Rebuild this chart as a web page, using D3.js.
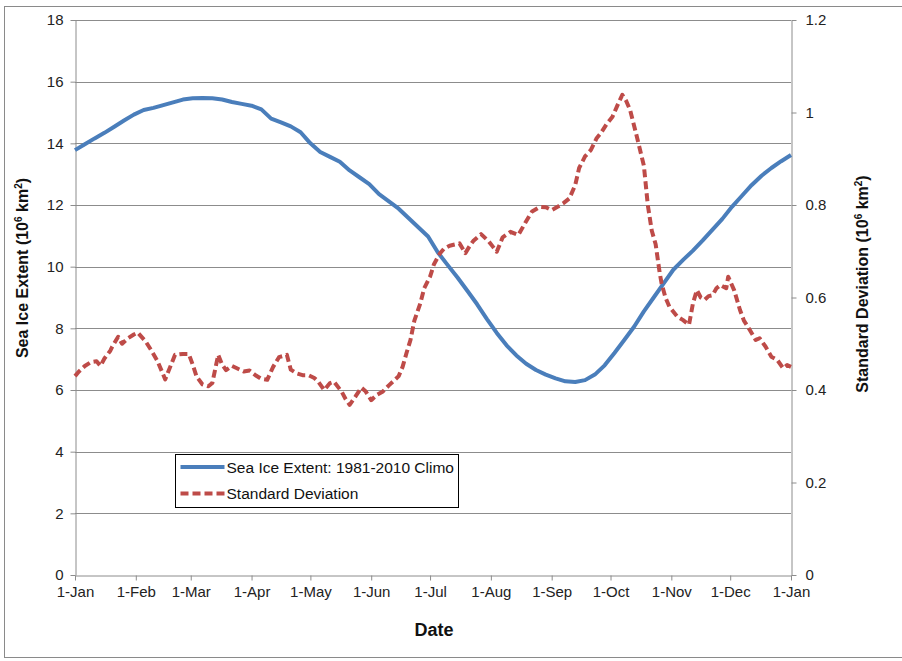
<!DOCTYPE html>
<html>
<head>
<meta charset="utf-8">
<script src="https://cdn.jsdelivr.net/npm/d3@7/dist/d3.min.js"></script>
<style>
  html, body { margin: 0; padding: 0; background: #fff; }
  svg { display: block; }
  .tick text { font-family: "Liberation Sans Narrow", "Liberation Sans", Arial, sans-serif; font-size: 15px; fill: #222; }
</style>
</head>
<body>
<svg id="chart" width="902" height="661"></svg>
<script>
// Day-of-year positions (0 = 1-Jan) and climatological sea ice extent (10^6 km^2)
const extentDays = [0,5,10,15,20,25,30,35,40,45,50,55,60,65,70,75,80,85,90,95,100,105,110,115,120,125,130,135,140,145,150,155,160,165,170,175,180,185,190,195,200,205,210,215,220,225,230,235,240,245,250,255,260,265,270,275,280,285,290,295,300,305,310,315,320,325,330,335,340,345,350,355,360,365];
const extentValues = [13.78,13.97,14.16,14.34,14.54,14.74,14.93,15.08,15.15,15.24,15.33,15.42,15.46,15.47,15.46,15.42,15.34,15.28,15.22,15.10,14.80,14.68,14.55,14.36,14.00,13.72,13.56,13.40,13.12,12.90,12.68,12.35,12.12,11.88,11.58,11.28,10.98,10.46,10.05,9.65,9.22,8.78,8.30,7.85,7.45,7.12,6.85,6.65,6.50,6.38,6.28,6.26,6.32,6.50,6.80,7.20,7.62,8.05,8.55,9.00,9.45,9.90,10.22,10.52,10.85,11.20,11.55,11.95,12.30,12.65,12.95,13.20,13.42,13.62];

// Standard deviation of extent (10^6 km^2)
const stdDays = [0,2,5,8,11,13,15,18,19,22,24,27,30,32,36,39,42,46,49,51,55,58,60,62,65,68,70,73,75,77,80,82,84,86,89,92,95,98,101,104,108,110,113,116,119,122,124,127,130,132,136,138,140,143,146,148,151,154,157,160,163,165,167,169,171,173,176,178,181,183,186,188,191,193,196,199,201,203,207,211,213,215,218,222,226,230,233,237,240,243,246,249,252,255,257,260,263,266,268,271,274,277,279,281,283,286,288,290,292,294,296,298,299,301,303,307,310,313,315,317,319,321,323,325,327,329,332,333,336,339,341,343,347,349,352,355,358,361,363,365];
const stdValues = [0.430,0.440,0.452,0.460,0.462,0.452,0.468,0.485,0.494,0.515,0.500,0.512,0.520,0.524,0.505,0.485,0.463,0.423,0.455,0.476,0.478,0.478,0.455,0.429,0.412,0.408,0.415,0.476,0.455,0.443,0.452,0.448,0.444,0.440,0.442,0.432,0.424,0.422,0.450,0.471,0.476,0.444,0.436,0.432,0.432,0.426,0.418,0.400,0.415,0.418,0.396,0.380,0.368,0.386,0.405,0.398,0.378,0.390,0.397,0.410,0.422,0.430,0.450,0.480,0.508,0.550,0.587,0.620,0.645,0.672,0.695,0.705,0.712,0.714,0.717,0.696,0.710,0.722,0.737,0.721,0.710,0.699,0.730,0.742,0.735,0.765,0.786,0.796,0.795,0.789,0.796,0.804,0.814,0.843,0.880,0.905,0.919,0.945,0.955,0.975,0.991,1.020,1.038,1.025,1.005,0.955,0.920,0.885,0.800,0.745,0.715,0.655,0.631,0.600,0.580,0.559,0.551,0.541,0.587,0.616,0.600,0.595,0.603,0.605,0.620,0.627,0.620,0.645,0.616,0.573,0.550,0.537,0.508,0.512,0.494,0.472,0.465,0.447,0.454,0.450];

// Month-start tick positions and labels
const monthDays = [0,31,59,90,120,151,181,212,243,273,304,334,365];
const monthLabels = ["1-Jan","1-Feb","1-Mar","1-Apr","1-May","1-Jun","1-Jul","1-Aug","1-Sep","1-Oct","1-Nov","1-Dec","1-Jan"];
const leftTicks = [0,2,4,6,8,10,12,14,16,18];
const rightTicks = [0,0.2,0.4,0.6,0.8,1,1.2];

const seriesNames = ["Sea Ice Extent: 1981-2010 Climo", "Standard Deviation"];
const blue = "#4a7ebb";
const red = "#be4b48";
const gridColor = "#8c8c8c";

const plot = { left: 75, right: 791, top: 20, bottom: 575 };
const svg = d3.select("#chart");

// Outer chart frame
svg.append("rect")
  .attr("x", 4.5).attr("y", 6.5).attr("width", 905).attr("height", 651)
  .attr("fill", "none").attr("stroke", "#8a8a8a").attr("stroke-width", 1);

const x = d3.scaleLinear().domain([0, 365]).range([plot.left, plot.right]);
const yL = d3.scaleLinear().domain([0, 18]).range([plot.bottom, plot.top]);
const yR = d3.scaleLinear().domain([0, 1.2]).range([plot.bottom, plot.top]);

// Horizontal gridlines
svg.append("g").selectAll("line").data(leftTicks.filter(d => d > 0)).join("line")
  .attr("x1", plot.left).attr("x2", plot.right)
  .attr("y1", d => Math.round(yL(d)) + 0.5).attr("y2", d => Math.round(yL(d)) + 0.5)
  .attr("stroke", gridColor).attr("stroke-width", 1);

// Axes
const fmtR = d => d === 0 ? "0" : d3.format("~g")(d);
const axL = svg.append("g").attr("transform", `translate(${plot.left + 0.5},0)`)
  .call(d3.axisLeft(yL).tickValues(leftTicks).tickSize(5).tickPadding(7).tickSizeOuter(0));
const axR = svg.append("g").attr("transform", `translate(${plot.right + 0.5},0)`)
  .call(d3.axisRight(yR).tickValues(rightTicks).tickFormat(fmtR).tickSize(5).tickPadding(9).tickSizeOuter(0));
const axB = svg.append("g").attr("transform", `translate(0,${plot.bottom + 0.5})`)
  .call(d3.axisBottom(x).tickValues(monthDays).tickFormat((d, i) => monthLabels[i]).tickSize(5).tickPadding(6).tickSizeOuter(0));
[axL, axR, axB].forEach(a => {
  a.select(".domain").attr("stroke", gridColor);
  a.selectAll(".tick line").attr("stroke", gridColor);
});

// Series lines
const lineL = d3.line().x(d => x(d[0])).y(d => yL(d[1]));
const lineR = d3.line().x(d => x(d[0])).y(d => yR(d[1]));

svg.append("path")
  .datum(extentDays.map((d, i) => [d, extentValues[i]]))
  .attr("d", lineL).attr("fill", "none")
  .attr("stroke", blue).attr("stroke-width", 4).attr("stroke-linejoin", "round");

svg.append("path")
  .datum(stdDays.map((d, i) => [d, stdValues[i]]))
  .attr("d", lineR).attr("fill", "none")
  .attr("stroke", red).attr("stroke-width", 4)
  .attr("stroke-dasharray", "8,4").attr("stroke-linejoin", "round");

// Axis titles with superscript exponents
const titleFont = "'Liberation Sans', Arial, sans-serif";
function unitTitle(cx, cy, label) {
  const t = svg.append("text")
    .attr("transform", `translate(${cx},${cy}) rotate(-90)`)
    .attr("text-anchor", "middle")
    .attr("font-family", titleFont).attr("font-size", 16).attr("font-weight", "bold").attr("fill", "#111");
  t.append("tspan").text(label + " (10");
  t.append("tspan").attr("font-size", 10).attr("dy", -6).text("6");
  t.append("tspan").attr("dy", 6).text(" km");
  t.append("tspan").attr("font-size", 10).attr("dy", -6).text("2");
  t.append("tspan").attr("dy", 6).text(")");
}
unitTitle(28, 268, "Sea Ice Extent");
unitTitle(868, 284, "Standard Deviation");

svg.append("text")
  .attr("x", 434).attr("y", 636).attr("text-anchor", "middle")
  .attr("font-family", titleFont).attr("font-size", 18).attr("font-weight", "bold").attr("fill", "#111")
  .text("Date");

// Legend
const lg = svg.append("g").attr("transform", "translate(175.5,454.5)");
lg.append("rect").attr("width", 283).attr("height", 53)
  .attr("fill", "#fff").attr("stroke", "#000").attr("stroke-width", 1);
const lgRows = [
  { name: seriesNames[0], color: blue, dash: null, y: 12.5 },
  { name: seriesNames[1], color: red, dash: "8,4", y: 39 }
];
lgRows.forEach(r => {
  lg.append("line").attr("x1", 5).attr("x2", 49).attr("y1", r.y).attr("y2", r.y)
    .attr("stroke", r.color).attr("stroke-width", 4)
    .attr("stroke-dasharray", r.dash);
  lg.append("text").attr("x", 51).attr("y", r.y + 5.5)
    .attr("font-family", titleFont).attr("font-size", 15.5).attr("fill", "#111")
    .text(r.name);
});
</script>
</body>
</html>
